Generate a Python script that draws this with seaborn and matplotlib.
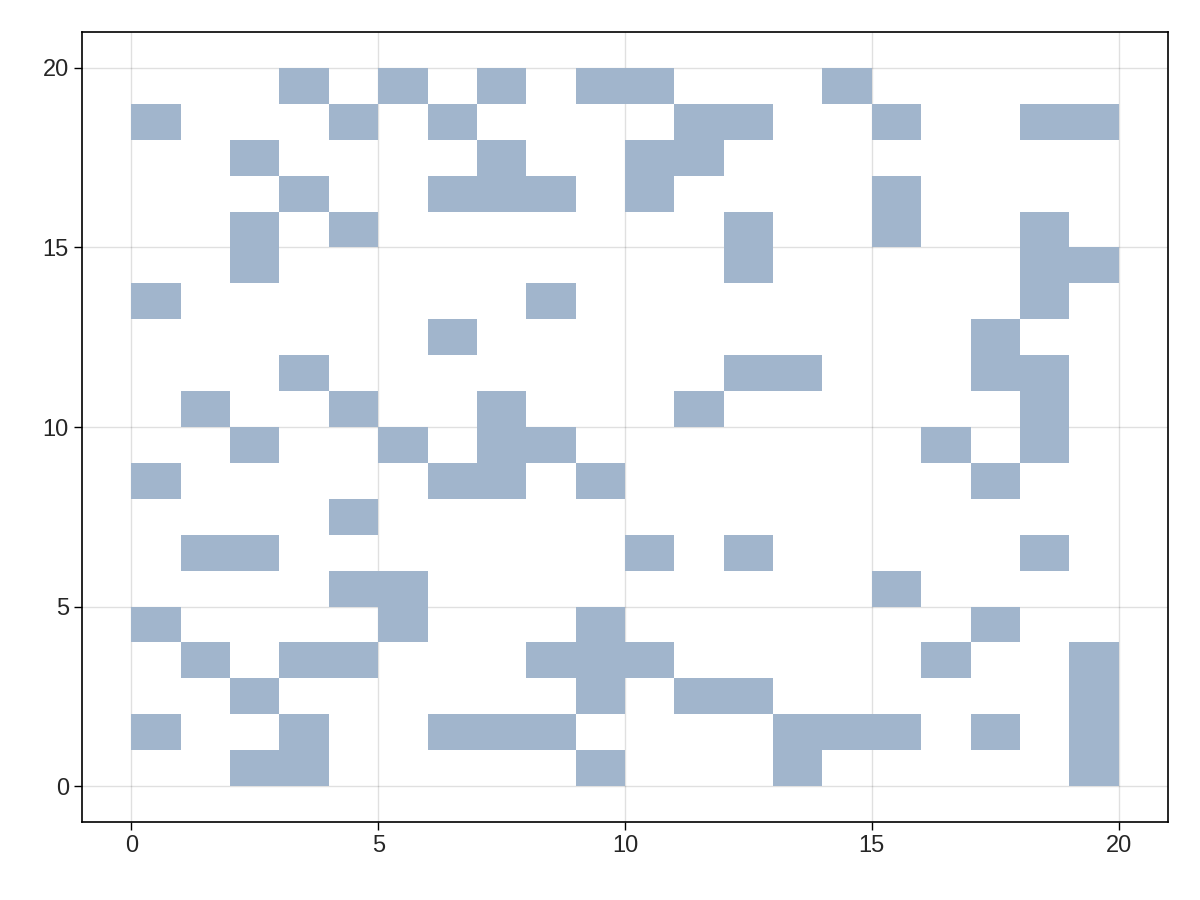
import numpy as np
import pandas as pd
import matplotlib
matplotlib.use("Agg")
from matplotlib import pyplot as plt
from matplotlib.colors import ListedColormap
import seaborn as sns

# filled columns for each row (row index = y cell, column index = x cell)
row_0 = [2, 3, 9, 13, 19]
row_1 = [0, 3, 6, 7, 8, 13, 14, 15, 17, 19]
row_2 = [2, 9, 11, 12, 19]
row_3 = [1, 3, 4, 8, 9, 10, 16, 19]
row_4 = [0, 5, 9, 17]
row_5 = [4, 5, 15]
row_6 = [1, 2, 10, 12, 18]
row_7 = [4]
row_8 = [0, 6, 7, 9, 17]
row_9 = [2, 5, 7, 8, 16, 18]
row_10 = [1, 4, 7, 11, 18]
row_11 = [3, 12, 13, 17, 18]
row_12 = [6, 17]
row_13 = [0, 8, 18]
row_14 = [2, 12, 18, 19]
row_15 = [2, 4, 12, 15, 18]
row_16 = [3, 6, 7, 8, 10, 15]
row_17 = [2, 7, 10, 11]
row_18 = [0, 4, 6, 11, 12, 15, 18, 19]
row_19 = [3, 5, 7, 9, 10, 14]

rows = [row_0, row_1, row_2, row_3, row_4, row_5, row_6, row_7, row_8, row_9,
        row_10, row_11, row_12, row_13, row_14, row_15, row_16, row_17, row_18, row_19]

xs, ys = [], []
for j, cols in enumerate(rows):
    for i in cols:
        xs.append(i + 0.5)
        ys.append(j + 0.5)
df = pd.DataFrame({"x": xs, "y": ys})

sns.set_style("white")
plt.rcParams['font.family'] = ['Liberation Sans', 'DejaVu Sans']

fig = plt.figure(figsize=(12, 9), dpi=100)
ax = fig.add_axes([82 / 1200, 1 - 822 / 900, (1168 - 82) / 1200, (822 - 32) / 900])

edges = np.arange(0, 21)
sns.histplot(data=df, x="x", y="y", bins=[edges, edges],
             cmap=ListedColormap(["#a1b5cc"]), ax=ax)

ax.set_xlim(-1, 21)
ax.set_ylim(-1, 21)
ticks = [0, 5, 10, 15, 20]
ax.set_xticks(ticks)
ax.set_yticks(ticks)
ax.set_xlabel("")
ax.set_ylabel("")
ax.grid(True, color="#000000", alpha=0.12, linewidth=1)
ax.set_axisbelow(True)
for s in ax.spines.values():
    s.set_color("black")
    s.set_linewidth(1.2)
ax.tick_params(axis="both", labelsize=17, length=6, width=1, color="black",
               bottom=True, left=True, direction="out")

fig.savefig("out.png", dpi=100)
